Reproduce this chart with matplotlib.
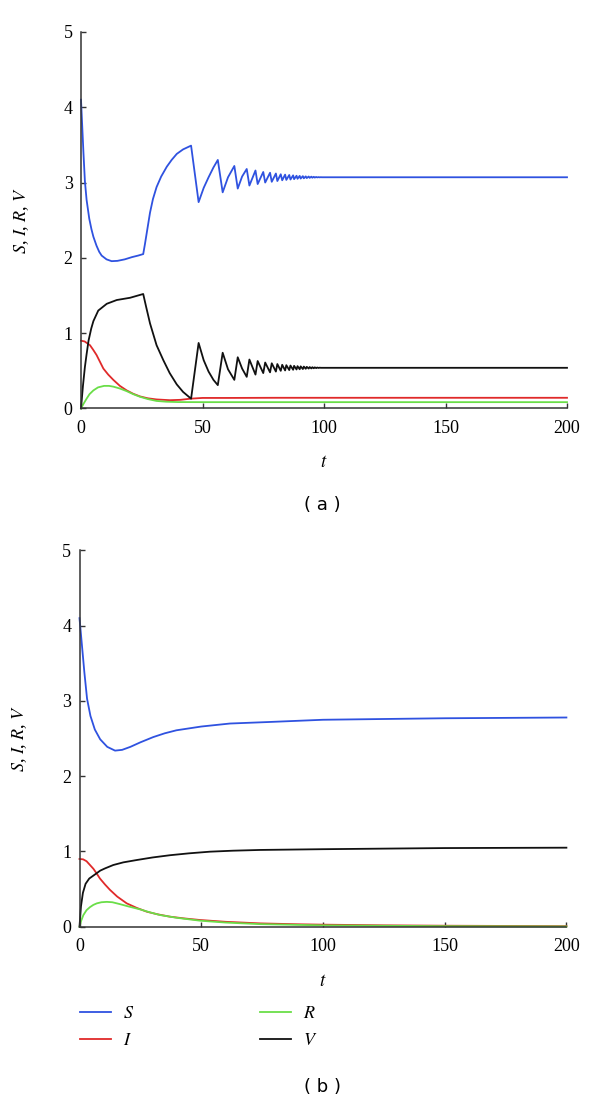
import matplotlib
matplotlib.use("Agg")
import matplotlib.pyplot as plt

# =============================
# DATA: panel (a), pulse vaccination
# =============================
t_S_a = [0, 0.5, 1.0, 1.6, 2.3, 3.4, 4.3, 5.1, 6.4, 7.5, 8.5, 10.5, 12.6, 15,
         18, 21, 23.5, 25.6, 26.3, 27.0, 28.4, 29.6, 31.1, 33, 35.3, 37.3,
         39.4, 42, 45.3, 48.4, 50.5, 52.5, 54.5, 56.3, 58.3, 60.5, 63.1, 64.5,
         66.3, 68.2, 69.3, 71.8, 72.7, 75.0, 75.8, 77.8, 78.5, 80.2, 80.8,
         82.2, 82.8, 84.0, 84.5, 85.7, 86.2, 87.3, 87.7, 88.7, 89.1, 90.0,
         90.4, 91.3, 91.7, 92.5, 92.9, 93.7, 94.1, 94.8, 95.2, 95.8, 96.2,
         96.8, 97.2, 97.8, 98.2, 98.7, 99.1, 120, 200]
S_a = [4.10, 3.75, 3.40, 3.02, 2.77, 2.52, 2.38, 2.28, 2.16, 2.08, 2.03, 1.98,
       1.956, 1.96, 1.98, 2.01, 2.03, 2.05, 2.18, 2.32, 2.60, 2.78, 2.94,
       3.08, 3.21, 3.30, 3.38, 3.44, 3.49, 2.74, 2.93, 3.07, 3.20, 3.30, 2.87,
       3.07, 3.22, 2.92, 3.08, 3.18, 2.96, 3.16, 2.98, 3.14, 3.00, 3.13, 3.01,
       3.12, 3.02, 3.11, 3.03, 3.105, 3.035, 3.10, 3.04, 3.095, 3.045, 3.09,
       3.05, 3.088, 3.053, 3.085, 3.056, 3.082, 3.059, 3.08, 3.062, 3.078,
       3.064, 3.076, 3.066, 3.074, 3.068, 3.072, 3.069, 3.071, 3.07, 3.07,
       3.07]

t_V_a = [0, 0.8, 1.6, 2.3, 3.1, 4.2, 5.1, 7.1, 10.6, 14.7, 20.2, 25.6, 26.8,
         28.4, 31.1, 33.9, 36.5, 39.4, 42, 45.3, 48.4, 50.5, 52.5, 54.5, 56.3,
         58.3, 60.5, 63.1, 64.5, 66.3, 68.2, 69.3, 71.8, 72.7, 75.0, 75.8,
         77.8, 78.5, 80.2, 80.8, 82.2, 82.8, 84.0, 84.5, 85.7, 86.2, 87.3,
         87.7, 88.7, 89.1, 90.0, 90.4, 91.3, 91.7, 92.5, 92.9, 93.7, 94.1,
         94.8, 95.2, 95.8, 96.2, 96.8, 97.2, 97.8, 98.2, 98.7, 99.1, 200]
V_a = [0, 0.30, 0.55, 0.72, 0.90, 1.06, 1.16, 1.30, 1.39, 1.44, 1.47, 1.52,
       1.35, 1.13, 0.84, 0.64, 0.47, 0.32, 0.22, 0.13, 0.87, 0.64, 0.49, 0.38,
       0.31, 0.74, 0.52, 0.38, 0.68, 0.53, 0.42, 0.65, 0.45, 0.63, 0.47, 0.61,
       0.48, 0.60, 0.49, 0.59, 0.50, 0.58, 0.505, 0.575, 0.51, 0.57, 0.514,
       0.566, 0.518, 0.562, 0.521, 0.559, 0.524, 0.556, 0.527, 0.553, 0.53,
       0.55, 0.532, 0.548, 0.534, 0.546, 0.536, 0.544, 0.538, 0.542, 0.54,
       0.54, 0.54]

t_I_a = [0, 1.5, 3.7, 5, 6.4, 7.8, 9.2, 11.2, 13.3, 16, 18.8, 21.5, 24.3,
         27.5, 31.1, 36.6, 41, 45, 50, 60, 80, 200]
I_a = [0.90, 0.89, 0.84, 0.78, 0.71, 0.62, 0.53, 0.45, 0.38, 0.30, 0.24,
       0.195, 0.16, 0.135, 0.12, 0.11, 0.115, 0.13, 0.14, 0.14, 0.142, 0.142]

t_R_a = [0, 1, 2.3, 3.5, 5.1, 7, 9.5, 11.5, 13.3, 16, 18.8, 21.5, 24.3, 27.5,
         31.1, 35, 40, 50, 200]
R_a = [0, 0.06, 0.13, 0.19, 0.24, 0.28, 0.30, 0.30, 0.29, 0.265, 0.23, 0.19,
       0.155, 0.125, 0.10, 0.09, 0.085, 0.084, 0.084]

# =============================
# DATA: panel (b), constant vaccination
# =============================
t_S_b = [0, 1, 2, 3.1, 4.5, 6.3, 8.5, 11.4, 14.6, 17.5, 20.9, 25, 30.3, 35,
         39.8, 50, 61.8, 77.6, 100, 124.6, 150, 200]
S_b = [4.10, 3.74, 3.38, 3.03, 2.80, 2.62, 2.49, 2.39, 2.34, 2.35, 2.39, 2.45,
       2.52, 2.57, 2.61, 2.66, 2.70, 2.72, 2.75, 2.76, 2.77, 2.78]

t_V_b = [0, 0.6, 1.4, 2.5, 4, 6.6, 8.5, 10.5, 13.9, 18, 23.5, 30, 37.2, 45,
         53.6, 63, 74.2, 100, 150, 200]
V_b = [0, 0.27, 0.45, 0.57, 0.64, 0.70, 0.745, 0.775, 0.82, 0.855, 0.886,
       0.92, 0.95, 0.975, 0.997, 1.01, 1.02, 1.03, 1.045, 1.05]

t_I_b = [0, 1.5, 2.9, 4.3, 5.7, 7, 8.4, 10.5, 12.5, 15.5, 19.4, 23.5, 27.6,
         32, 37.2, 43, 49.5, 60, 74.2, 90, 100, 125, 150, 200]
I_b = [0.90, 0.895, 0.87, 0.82, 0.77, 0.71, 0.64, 0.56, 0.49, 0.40, 0.31,
       0.25, 0.20, 0.165, 0.133, 0.11, 0.089, 0.065, 0.044, 0.032, 0.027,
       0.018, 0.013, 0.007]

t_R_b = [0, 0.7, 1.6, 2.9, 4.3, 5.7, 7.1, 9, 11.2, 13.5, 16.6, 20, 24.9, 29,
         33.1, 40, 49.5, 60, 74.2, 100, 150, 200]
R_b = [0, 0.08, 0.155, 0.22, 0.26, 0.29, 0.31, 0.325, 0.33, 0.325, 0.30,
       0.27, 0.23, 0.19, 0.155, 0.118, 0.08, 0.055, 0.034, 0.018, 0.007, 0.003]

X_TICKS = [0, 50, 100, 150, 200]
Y_TICKS = [0, 1, 2, 3, 4, 5]

# =============================
# STYLE
# =============================
COLORS = {'S': '#2f52e0', 'I': '#e02a2a', 'R': '#6ade48', 'V': '#111111'}
LW = 1.3
SPINE = '#333333'

plt.rcParams['font.family'] = 'serif'
plt.rcParams['font.serif'] = ['Liberation Serif', 'DejaVu Serif']
plt.rcParams['mathtext.fontset'] = 'stix'


def setup_axes(ax):
    ax.set_xlim(0, 200)
    ax.set_ylim(0, 5)
    ax.set_xticks(X_TICKS)
    ax.set_yticks(Y_TICKS)
    for side in ['top', 'right']:
        ax.spines[side].set_visible(False)
    for side in ['left', 'bottom']:
        ax.spines[side].set_color(SPINE)
        ax.spines[side].set_linewidth(1.1)
    ax.tick_params(direction='in', length=3.5, width=1.0, color=SPINE,
                   labelsize=13)
    ax.tick_params(axis='x', pad=8)
    ax.tick_params(axis='y', pad=6)
    ax.set_ylabel('$S$, $I$, $R$, $V$', fontsize=13)
    ax.yaxis.set_label_coords(-0.103, 0.5)
    ax.set_xlabel('$t$', fontsize=13.5)
    ax.xaxis.set_label_coords(0.5, -0.122)


def draw_panel(ax, series):
    lines = {}
    for name in ['S', 'I', 'R', 'V']:
        t, v = series[name]
        lines[name], = ax.plot(t, v, color=COLORS[name], lw=LW,
                               label='$%s$' % name, clip_on=False)
    setup_axes(ax)
    return lines


# =============================
# FIGURE
# =============================
fig = plt.figure(figsize=(6, 11.04), dpi=100)
ax_a = fig.add_axes([0.135, 0.630, 0.810, 0.3411])
ax_b = fig.add_axes([0.1325, 0.1606, 0.8115, 0.3408])

draw_panel(ax_a, {'S': (t_S_a, S_a), 'I': (t_I_a, I_a),
                  'R': (t_R_a, R_a), 'V': (t_V_a, V_a)})
lines_b = draw_panel(ax_b, {'S': (t_S_b, S_b), 'I': (t_I_b, I_b),
                            'R': (t_R_b, R_b), 'V': (t_V_b, V_b)})

fig.text(0.538, 0.5426, '( a )', family='DejaVu Sans', fontsize=13,
         ha='center', va='center')
fig.text(0.538, 0.0154, '( b )', family='DejaVu Sans', fontsize=13,
         ha='center', va='center')

order = ['S', 'I', 'R', 'V']
fig.legend([lines_b[k] for k in order], ['$%s$' % k for k in order],
           ncol=2, loc='upper left', bbox_to_anchor=(0.133, 0.0898),
           frameon=False, fontsize=13, handlelength=1.75, handletextpad=0.65,
           columnspacing=6.95, labelspacing=0.57, borderpad=0,
           borderaxespad=0)

fig.savefig('out.png', dpi=100)
